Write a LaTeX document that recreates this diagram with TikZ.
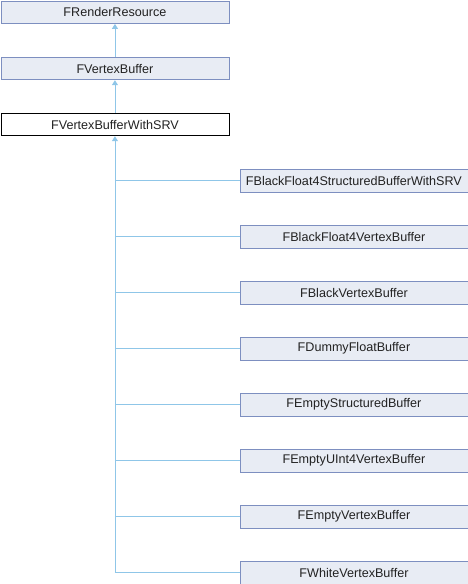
\documentclass[tikz,border=0pt]{standalone}
\usepackage{fontspec}
\setmainfont{Liberation Sans}
\usetikzlibrary{arrows.meta}
\definecolor{boxfill}{HTML}{E8ECF4}
\definecolor{boxdraw}{HTML}{7D8FC0}
\definecolor{linkcol}{HTML}{8FC6E8}
\definecolor{txt}{HTML}{222222}
\begin{document}
\begin{tikzpicture}[x=1pt,y=-1pt,
  cls/.style={draw=boxdraw,fill=boxfill,line width=0.9pt,minimum width=228pt,minimum height=22.5pt,inner sep=0pt,font=\fontsize{12.6}{14}\selectfont,text=txt,anchor=north west},
  cur/.style={cls,draw=black,fill=white},
  inh/.style={draw=linkcol,line width=0.9pt,-{Triangle[width=6pt,length=5pt]}},
  link/.style={draw=linkcol,line width=0.9pt}]
\useasboundingbox (0,0) rectangle (468,584);
\node[cls] (a) at (0.5,0.5) {FRenderResource};
\node[cls] (b) at (0.5,56.8) {FVertexBuffer};
\node[cur] (c) at (0.5,112.8) {FVertexBufferWithSRV};
\node[cls] (d1) at (239.5,169) {FBlackFloat4StructuredBufferWithSRV};
\node[cls] (d2) at (239.5,225) {FBlackFloat4VertexBuffer};
\node[cls] (d3) at (239.5,281) {FBlackVertexBuffer};
\node[cls] (d4) at (239.5,337) {FDummyFloatBuffer};
\node[cls] (d5) at (239.5,393) {FEmptyStructuredBuffer};
\node[cls] (d6) at (239.5,449) {FEmptyUInt4VertexBuffer};
\node[cls] (d7) at (239.5,505) {FEmptyVertexBuffer};
\node[cls] (d8) at (239.5,561) {FWhiteVertexBuffer};
\coordinate (tb) at (c.south |- d8.west);
\draw[inh] (tb) -- (c.south);
\foreach \i in {1,...,8} {
  \draw[link] (c.south |- d\i.west) -- (d\i.west);
}
\draw[inh] (b.north) -- (a.south);
\draw[inh] (c.north) -- (b.south);
\end{tikzpicture}
\end{document}
